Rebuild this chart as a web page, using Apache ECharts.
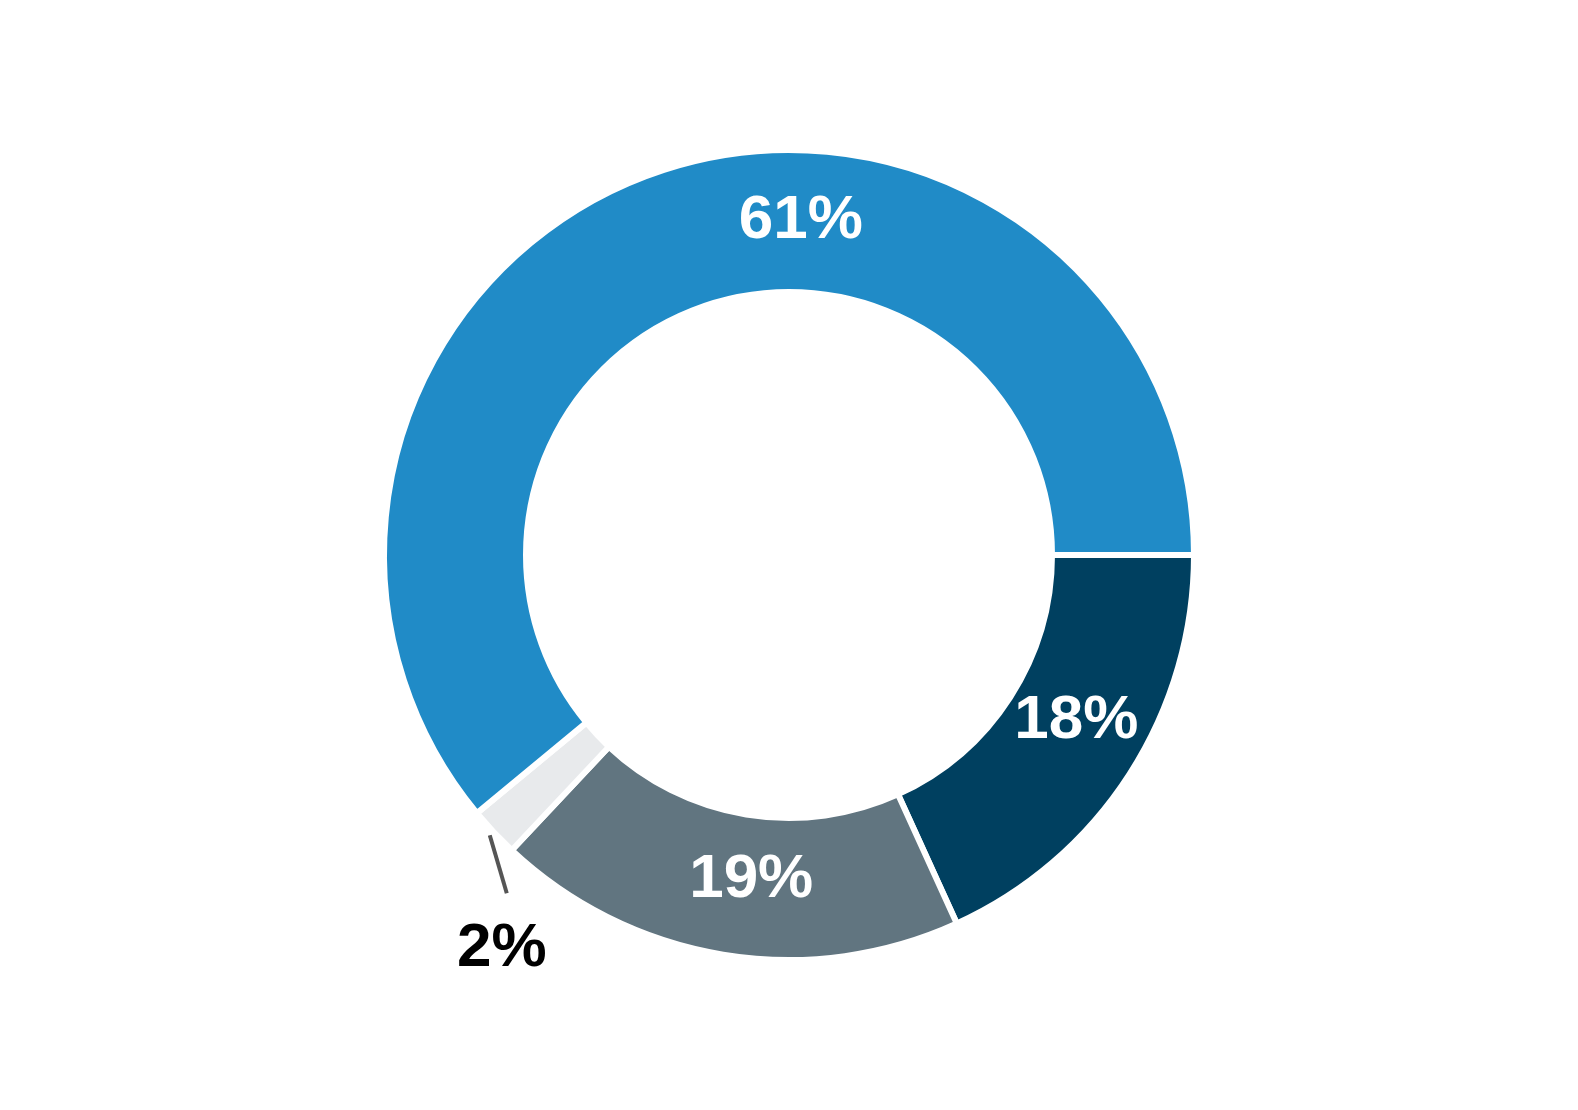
<!DOCTYPE html>
<html>
<head>
<meta charset="utf-8">
<script src="https://cdn.jsdelivr.net/npm/echarts@6/dist/echarts.min.js"></script>
<style>
html,body{margin:0;padding:0;background:#fff;}
#chart{width:1578px;height:1110px;}
</style>
</head>
<body>
<div id="chart"></div>
<script>
const categories = ['Segment A', 'Segment B', 'Segment C', 'Segment D'];
const values = [18.2, 18.8, 2.0, 61.0];
const labels = ['18%', '19%', '2%', '61%'];
const colors = ['#004060', '#617580', '#E8EAEC', '#208BC7'];
const labelOffsets = [[4, -16], [17, -8], [0, 0], [126, -17]];

const FONT = 'Liberation Sans';
const chart = echarts.init(document.getElementById('chart'), null, {renderer: 'canvas'});

const data = categories.map((c, i) => {
  const item = {
    name: c,
    value: values[i],
    itemStyle: {color: colors[i]},
    label: {
      show: true,
      position: 'inside',
      formatter: labels[i],
      color: '#ffffff',
      fontFamily: FONT,
      fontWeight: 'bold',
      fontSize: 62,
      offset: labelOffsets[i]
    }
  };
  if (i === 2) {
    item.label = {
      show: true,
      position: 'outside',
      formatter: labels[i],
      color: '#000000',
      fontFamily: FONT,
      fontWeight: 'bold',
      fontSize: 62
    };
    item.labelLine = {
      show: true,
      length: 30,
      length2: 0,
      lineStyle: {color: '#555555', width: 4}
    };
  }
  return item;
});

chart.setOption({
  animation: false,
  backgroundColor: '#ffffff',
  series: [{
    type: 'pie',
    center: ['50%', '50%'],
    radius: [263, 405],
    startAngle: 0,
    clockwise: true,
    avoidLabelOverlap: false,
    itemStyle: {borderColor: '#ffffff', borderWidth: 6},
    label: {
      fontFamily: FONT,
      fontWeight: 'bold',
      fontSize: 62
    },
    labelLine: {show: false},
    labelLayout: function (params) {
      if (params.dataIndex !== 2 || !params.labelLinePoints) return {};
      const p = params.labelLinePoints[0];
      return {
        x: p[0] + 8,
        y: p[1] + 117,
        align: 'center',
        verticalAlign: 'middle',
        labelLinePoints: [[p[0] - 4, p[1] + 3], [p[0] + 13, p[1] + 61], [p[0] + 13, p[1] + 61]]
      };
    },
    data: data
  }]
});
</script>
</body>
</html>
